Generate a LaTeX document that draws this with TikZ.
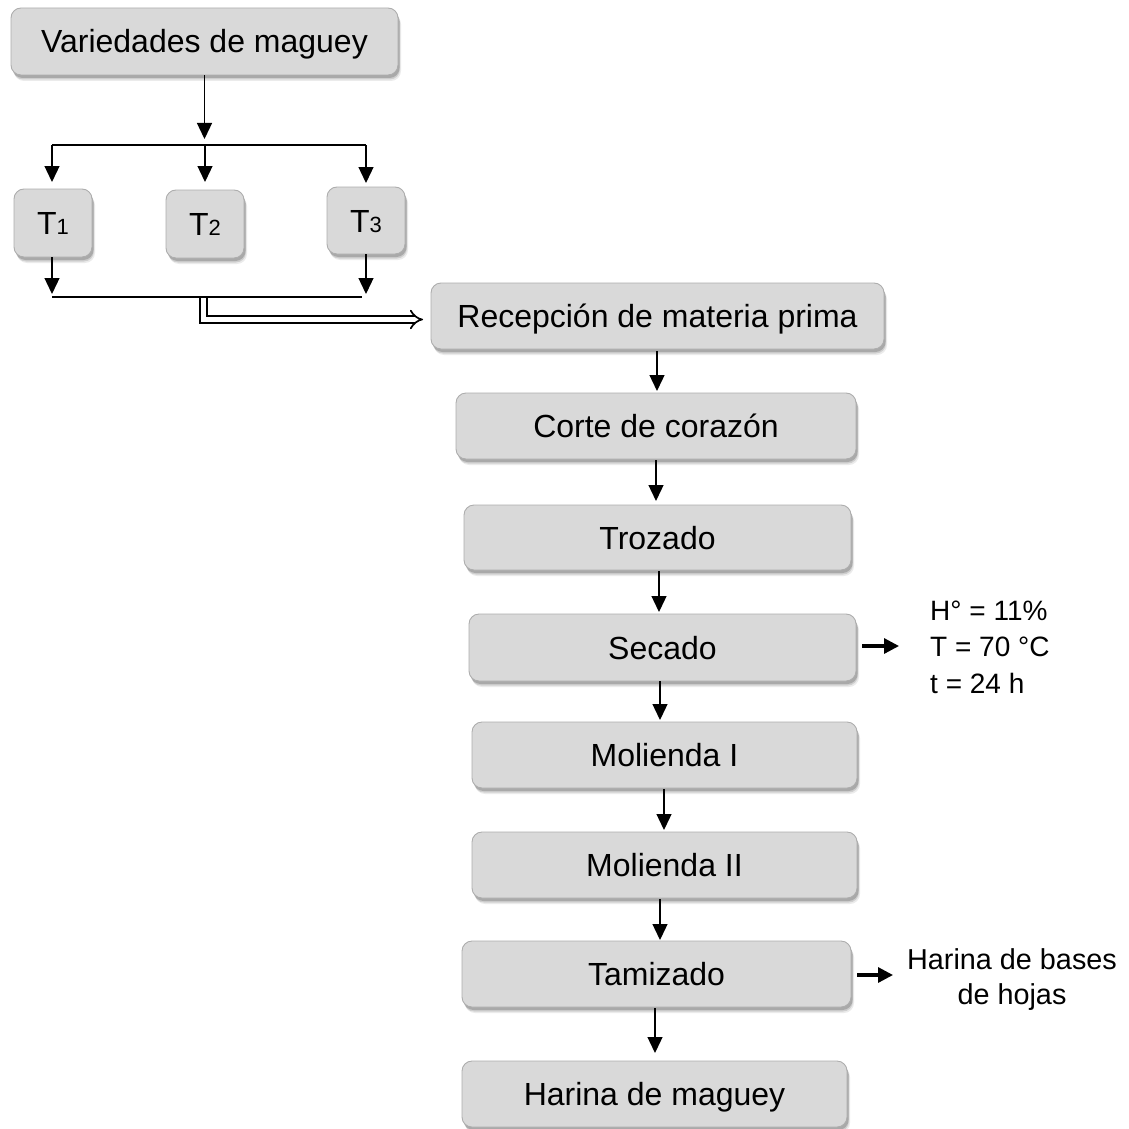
\documentclass[tikz,border=0pt]{standalone}
\usepackage{fontspec}
\setmainfont{Liberation Sans}
\usetikzlibrary{arrows.meta,shadows}
\definecolor{boxfill}{HTML}{D9D9D9}
\definecolor{boxline}{HTML}{ADADAD}
\begin{document}
\begin{tikzpicture}[x=1pt,y=-1pt,
  box/.style={draw=boxline, fill=boxfill, rounded corners=10pt, line width=0.9pt,
    inner sep=0pt, font=\fontsize{32}{38}\selectfont, text height=23pt, text depth=0pt,
    drop shadow={shadow xshift=3pt, shadow yshift=-6pt, opacity=0.08, fill=black},
    drop shadow={shadow xshift=2pt, shadow yshift=-4.5pt, opacity=0.12, fill=black},
    drop shadow={shadow xshift=1.5pt, shadow yshift=-3pt, opacity=0.18, fill=black}},
  arr/.style={line width=1.3pt, -{Triangle[width=15pt,length=16pt]}},
  sidearr/.style={line width=3.2pt, -{Triangle[width=15pt,length=15pt]}},
  plain/.style={line width=1.3pt},
  dbl/.style={draw=black, line width=1.7pt, double, double distance=5pt, -{Implies}},
  side/.style={inner sep=0pt, font=\fontsize{28}{36.5}\selectfont}
]
\useasboundingbox (0,0) rectangle (1129,1129);

% boxes
\node[box, minimum width=387pt, minimum height=67pt] (v) at (204.5,41.5) {Variedades de maguey};
\node[box, minimum width=78pt, minimum height=68pt] (t1) at (53,223) {T{\fontsize{22}{24}\selectfont 1}};
\node[box, minimum width=78pt, minimum height=68pt] (t2) at (205,224) {T{\fontsize{22}{24}\selectfont 2}};
\node[box, minimum width=78pt, minimum height=67pt] (t3) at (366,220.5) {T{\fontsize{22}{24}\selectfont 3}};
\node[box, minimum width=453pt, minimum height=66pt] (rec) at (657.5,316) {Recepción de materia prima};
\node[box, minimum width=400pt, minimum height=66pt] (cor) at (656,426) {Corte de corazón};
\node[box, minimum width=387pt, minimum height=65pt] (tro) at (657.5,537.5) {Trozado};
\node[box, minimum width=387pt, minimum height=67pt] (sec) at (662.5,647.5) {Secado};
\node[box, minimum width=385pt, minimum height=66pt] (m1) at (664.5,755) {Molienda I};
\node[box, minimum width=385pt, minimum height=66pt] (m2) at (664.5,865) {Molienda II};
\node[box, minimum width=389pt, minimum height=66pt] (tam) at (656.5,974) {Tamizado};
\node[box, minimum width=385pt, minimum height=66pt] (har) at (654.5,1094) {Harina de maguey};

% side texts
\node[side, anchor=west, align=left] (cond) at (930,647) {H° = 11\%\\T = 70 °C\\t = 24 h};
\node[side, align=center, font=\fontsize{28.8}{35}\selectfont] (hb) at (1012,980) {Harina de bases\\de hojas};

% coordinates
\coordinate (s0) at (204.5,139);
\coordinate (sl) at (52,145);
\coordinate (sm) at (205,145);
\coordinate (sr) at (366,145);
\coordinate (t1e) at (52,182);
\coordinate (t2e) at (205,182);
\coordinate (t3e) at (366,183);
\coordinate (b1) at (52,294);
\coordinate (b3) at (366,294);
\coordinate (jl) at (52,297);
\coordinate (jr) at (362,297);
\coordinate (ds) at (203.5,298);
\coordinate (de) at (423,319.5);
\coordinate (ca) at (862,646);
\coordinate (cb) at (899,646);
\coordinate (ha) at (857,975);
\coordinate (hbe) at (893,975);

% split
\draw[arr] (v.south) -- (s0);
\draw[plain] (sl) -- (sr);
\draw[arr] (sl) -- (t1e);
\draw[arr] (sm) -- (t2e);
\draw[arr] (sr) -- (t3e);
\draw[arr] (t1.south -| b1) -- (b1);
\draw[arr] (t3.south -| b3) -- (b3);
\draw[dbl] (ds) |- (de);
\draw[plain] (jl) -- (jr);

% main chain
\draw[arr] (657,351) -- (657,391);
\draw[arr] (656,460) -- (656,501);
\draw[arr] (659,571) -- (659,612);
\draw[arr] (660,681) -- (660,720);
\draw[arr] (664,789) -- (664,830);
\draw[arr] (660,899) -- (660,940);
\draw[arr] (655,1008) -- (655,1053);

% side arrows
\draw[sidearr] (ca) -- (cb);
\draw[sidearr] (ha) -- (hbe);
\end{tikzpicture}
\end{document}
